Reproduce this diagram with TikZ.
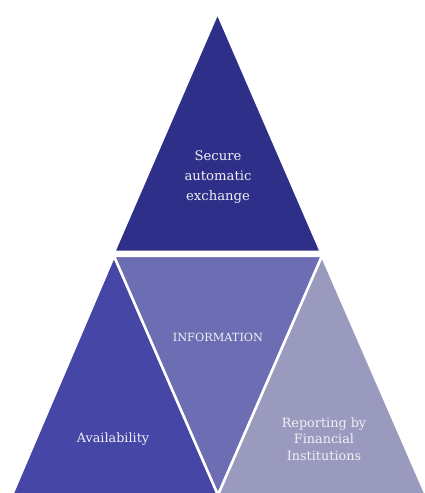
\documentclass[tikz,border=0pt]{standalone}
\usepackage{fontspec}
\setmainfont{DejaVu Serif}[Scale=1.0]
\definecolor{cTop}{HTML}{2E2F88}
\definecolor{cLeft}{HTML}{4646A6}
\definecolor{cMid}{HTML}{6D6DB3}
\definecolor{cRight}{HTML}{9A9ABE}
\begin{document}
\begin{tikzpicture}[x=1pt,y=1pt,
  tri/.style={draw=white,line width=2.5pt,line join=miter},
  lbl/.style={text=white!90!cMid,align=center,font=\rmfamily\fontsize{12.8}{16.5}\selectfont}]
\useasboundingbox (0,0) rectangle (425,493);
\fill[white] (0,0) rectangle (425,493);
\filldraw[tri,fill=cTop] (114,241) -- (321,241) -- (217.5,480) -- cycle;
\filldraw[tri,fill=cLeft] (12,-2) -- (218,-2) -- (114,237) -- cycle;
\filldraw[tri,fill=cMid] (114,237) -- (322,237) -- (218,-2) -- cycle;
\filldraw[tri,fill=cRight] (218,-2) -- (426,-2) -- (322,237) -- cycle;
\node[lbl,font=\rmfamily\fontsize{13.2}{20}\selectfont] (top) at (218,316) {Secure\\automatic\\exchange};
\node[lbl,font=\rmfamily\fontsize{11.3}{16}\selectfont] (mid) at (218,156) {INFORMATION};
\node[lbl] (left) at (113,54) {Availability};
\node[lbl] (right) at (324,54) {Reporting by\\Financial\\Institutions};
\end{tikzpicture}
\end{document}
